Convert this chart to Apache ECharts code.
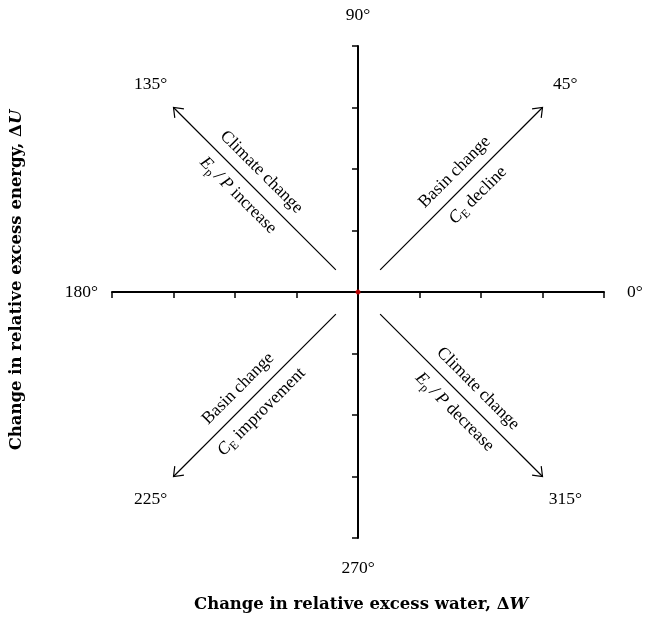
<!DOCTYPE html>
<html>
<head>
<meta charset="utf-8">
<script src="https://cdn.jsdelivr.net/npm/echarts@6/dist/echarts.min.js"></script>
<style>
  html, body { margin: 0; padding: 0; background: #fff; }
  #main { width: 649px; height: 617px; }
</style>
</head>
<body>
<div id="main"></div>
<script>
// axis range (both axes), in data units
var axisMin = -4
var axisMax = 4
var axisStep = 1

// the four arrows: start and end points
var arrowX0 = [0.36, -0.36, -0.36, 0.36]
var arrowY0 = [0.36, 0.36, -0.36, -0.36]
var arrowX1 = [3, -3, -3, 3]
var arrowY1 = [3, 3, -3, -3]
var arrowTop = ['Basin change', 'Climate change', 'Basin change', 'Climate change']
var arrowBottom = [
  '{i|C}{s|E} decline',
  '{i|E}{s|p}{i|\u2009/\u2009P} increase',
  '{i|C}{s|E} improvement',
  '{i|E}{s|p}{i|\u2009/\u2009P} decrease'
]

// angle labels around the cross
var angleNames = ['0°', '45°', '90°', '135°', '180°', '225°', '270°', '315°']
var angleX = [4.5, 3.37, 0, -3.37, -4.5, -3.37, 0, 3.37]
var angleY = [0, 3.37, 4.5, 3.37, 0, -3.37, -4.5, -3.37]

var serif = '"Liberation Serif", "DejaVu Serif", serif'
var textSize = 17.5

var richStyles = {
  i: { fontStyle: 'italic', fontSize: textSize, fontFamily: serif, lineHeight: 22, fill: '#000' },
  s: { fontSize: 12, fontFamily: serif, lineHeight: 22, verticalAlign: 'bottom', fill: '#000' }
}

function rot(x, y, a) {
  return [x * Math.cos(a) - y * Math.sin(a), x * Math.sin(a) + y * Math.cos(a)]
}

function renderArrow(params, api) {
  var i = params.dataIndex
  var p0 = api.coord([api.value(0), api.value(1)])
  var p1 = api.coord([api.value(2), api.value(3)])
  var dx = p1[0] - p0[0]
  var dy = p1[1] - p0[1]
  var len = Math.sqrt(dx * dx + dy * dy)
  var ux = dx / len
  var uy = dy / len
  // open arrow head
  var head = 10.5
  var ang = 38 * Math.PI / 180
  var a1 = rot(-ux, -uy, ang)
  var a2 = rot(-ux, -uy, -ang)
  // text reads left to right
  var tx = ux
  var ty = uy
  if (tx < 0) { tx = -tx; ty = -ty }
  var rotation = -Math.atan2(ty, tx)
  var nx = ty
  var ny = -tx
  var mx = (p0[0] + p1[0]) / 2 + ux * 7
  var my = (p0[1] + p1[1]) / 2 + uy * 7
  var off = 16.5
  return {
    type: 'group',
    children: [
      {
        type: 'line',
        shape: { x1: p0[0], y1: p0[1], x2: p1[0], y2: p1[1] },
        style: { stroke: '#000', lineWidth: 1.2 }
      },
      {
        type: 'polyline',
        shape: { points: [
          [p1[0] + a1[0] * head, p1[1] + a1[1] * head],
          [p1[0], p1[1]],
          [p1[0] + a2[0] * head, p1[1] + a2[1] * head]
        ] },
        style: { stroke: '#000', lineWidth: 1.2, fill: null }
      },
      {
        type: 'text',
        x: mx + nx * off,
        y: my + ny * off,
        rotation: rotation,
        style: {
          text: arrowTop[i], fill: '#000', fontSize: textSize, fontFamily: serif,
          align: 'center', verticalAlign: 'middle', lineHeight: 22
        }
      },
      {
        type: 'text',
        x: mx - nx * off,
        y: my - ny * off,
        rotation: rotation,
        style: {
          text: arrowBottom[i], fill: '#000', fontSize: textSize, fontFamily: serif,
          align: 'center', verticalAlign: 'middle', lineHeight: 22, rich: richStyles
        }
      }
    ]
  }
}

function renderAngle(params, api) {
  var p = api.coord([api.value(0), api.value(1)])
  return {
    type: 'text',
    x: p[0],
    y: p[1],
    style: {
      text: angleNames[params.dataIndex], fill: '#000', fontSize: textSize, fontFamily: serif,
      align: 'center', verticalAlign: 'middle'
    }
  }
}

var titleFont = 'bold 16.5px "DejaVu Serif"'
var titleItalic = 'italic bold 16.5px "DejaVu Serif"'

var chart = echarts.init(document.getElementById('main'))
chart.setOption({
  animation: false,
  grid: { left: 112, right: 45, top: 46, bottom: 79 },
  xAxis: {
    type: 'value', min: axisMin, max: axisMax, interval: axisStep,
    axisLine: { onZero: true, lineStyle: { color: '#000', width: 2 } },
    axisTick: { show: true, length: 6, lineStyle: { color: '#000', width: 1.5 } },
    axisLabel: { show: false },
    splitLine: { show: false }
  },
  yAxis: {
    type: 'value', min: axisMin, max: axisMax, interval: axisStep,
    axisLine: { onZero: true, lineStyle: { color: '#000', width: 2 } },
    axisTick: { show: true, length: 6, lineStyle: { color: '#000', width: 1.5 } },
    axisLabel: { show: false },
    splitLine: { show: false }
  },
  graphic: [
    {
      type: 'text', x: 361, y: 605,
      style: {
        text: 'Change in relative excess water, Δ{i|W}',
        font: titleFont, fill: '#000',
        align: 'center', verticalAlign: 'middle', textAlign: 'center', textVerticalAlign: 'middle',
        rich: { i: { font: titleItalic, fill: '#000' } }
      }
    },
    {
      type: 'text', x: 17, y: 280, rotation: Math.PI / 2,
      style: {
        text: 'Change in relative excess energy, Δ{i|U}',
        font: titleFont, fill: '#000',
        align: 'center', verticalAlign: 'middle', textAlign: 'center', textVerticalAlign: 'middle',
        rich: { i: { font: titleItalic, fill: '#000' } }
      }
    }
  ],
  series: [
    {
      type: 'custom',
      renderItem: renderArrow,
      clip: false,
      encode: { x: [0, 2], y: [1, 3] },
      data: arrowX0.map(function (x, i) { return [x, arrowY0[i], arrowX1[i], arrowY1[i]] })
    },
    {
      type: 'custom',
      renderItem: renderAngle,
      clip: false,
      encode: { x: 0, y: 1 },
      data: angleX.map(function (x, i) { return [x, angleY[i]] })
    },
    {
      type: 'scatter',
      symbolSize: 5,
      z: 5,
      itemStyle: { color: '#e00000' },
      data: [[0, 0]]
    }
  ]
})
</script>
</body>
</html>
